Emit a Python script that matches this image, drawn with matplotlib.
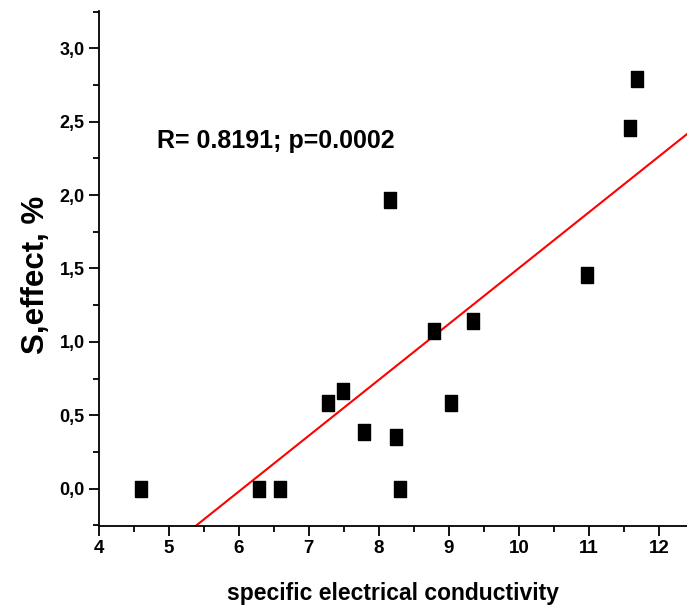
import numpy as np
import matplotlib.pyplot as plt
from matplotlib.ticker import MultipleLocator, FuncFormatter

plt.rcParams['font.family'] = ['Liberation Sans', 'DejaVu Sans']
plt.rcParams['font.weight'] = 'bold'

# specific electrical conductivity vs S effect (%)
conductivity = np.array([4.60, 6.29, 6.59, 7.27, 7.49, 7.79, 8.25, 8.31,
                         8.16, 8.79, 9.03, 9.35, 10.97, 11.58, 11.69])
s_effect = np.array([0.0, 0.0, 0.0, 0.584, 0.663, 0.384, 0.354, 0.0,
                     1.965, 1.076, 0.584, 1.144, 1.455, 2.46, 2.79])

stat_text = "R= 0.8191; p=0.0002"

# linear fit
k, b = np.polyfit(conductivity, s_effect, 1)

fig = plt.figure(figsize=(6.87, 6.08), dpi=100)
ax = fig.add_axes([0.1434, 0.1349, 0.8566, 0.8470])

# slightly tall square marker, like the original
rect = [(-0.83, -1), (0.83, -1), (0.83, 1), (-0.83, 1), (-0.83, -1)]
ax.plot(conductivity, s_effect, linestyle='none', marker=rect,
        markersize=11, color='black', zorder=3)

xfit = np.array([4.0, 12.4])
ax.plot(xfit, k * xfit + b, '-', color='red', linewidth=1.5, zorder=2)

ax.set_xlim(4, 12.4)
ax.set_ylim(-0.254, 3.254)

ax.xaxis.set_major_locator(MultipleLocator(1))
ax.xaxis.set_minor_locator(MultipleLocator(0.5))
ax.yaxis.set_major_locator(MultipleLocator(0.5))
ax.yaxis.set_minor_locator(MultipleLocator(0.25))
ax.yaxis.set_major_formatter(FuncFormatter(lambda v, p: f"{v:.1f}".replace('.', ',')))
ax.xaxis.set_major_formatter(FuncFormatter(lambda v, p: f"{v:.0f}"))

for s in ['top', 'right']:
    ax.spines[s].set_visible(False)
for s in ['left', 'bottom']:
    ax.spines[s].set_linewidth(1.3)

ax.tick_params(which='major', direction='out', length=7, width=1.3,
               labelsize=13, pad=3)
ax.tick_params(axis='x', which='major', labelsize=13.5)
ax.tick_params(which='minor', direction='out', length=4, width=1.3)
for lab in ax.get_xticklabels() + ax.get_yticklabels():
    lab.set_fontweight('bold')

ax.set_xlabel('specific electrical conductivity', fontsize=16.5,
              fontweight='bold', labelpad=18)
ax.set_ylabel('S,effect, %', fontsize=22.5, fontweight='bold')
ax.yaxis.set_label_coords(-0.08, 0.487)

ax.text(4.83, 2.37, stat_text, fontsize=18, fontweight='bold',
        va='center', ha='left')

fig.savefig('out.png', dpi=100)
